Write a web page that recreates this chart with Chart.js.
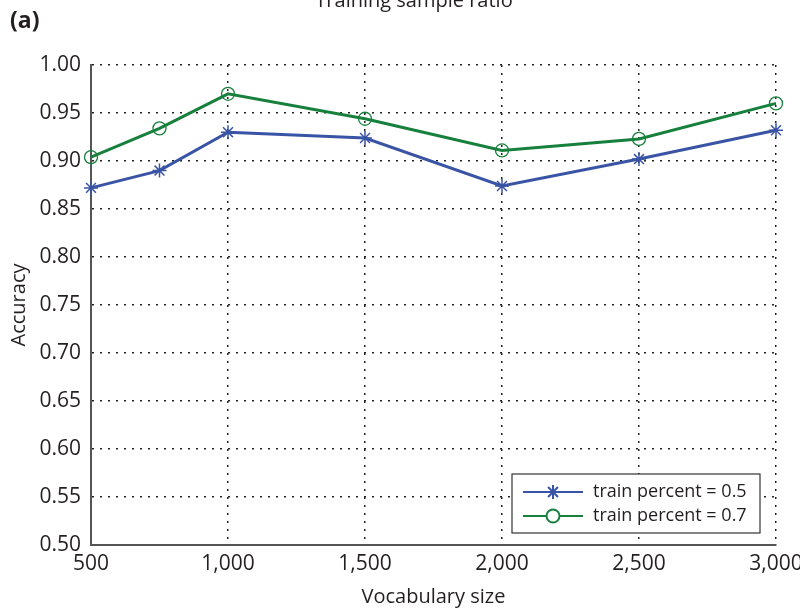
<!DOCTYPE html>
<html>
<head>
<meta charset="utf-8">
<script src="https://cdn.jsdelivr.net/npm/chart.js@4.4.1/dist/chart.umd.min.js"></script>
<style>
  body { margin: 0; background: #fff; }
  #wrap { width: 800px; height: 609px; position: relative; }
</style>
</head>
<body>
<div id="wrap"><canvas id="accChart"></canvas></div>
<script>
// Accuracy vs vocabulary size, two training ratios
const vocabSizes = [500, 750, 1000, 1500, 2000, 2500, 3000];
const acc05 = [0.872, 0.890, 0.930, 0.924, 0.874, 0.902, 0.932];
const acc07 = [0.904, 0.934, 0.970, 0.944, 0.911, 0.923, 0.960];
const seriesLabels = ['train percent = 0.5', 'train percent = 0.7'];

const FONT = "'Open Sans', 'Noto Sans', sans-serif";
const TEXT = '#231f20';
const BLUE = '#3a54a5';
const GREEN = '#17803d';

const toPoints = (xs, ys) => xs.map((x, i) => ({ x: x, y: ys[i] }));

// figure title (clipped at the top in the original) and panel tag
const headerPlugin = {
    id: 'header',
    afterDraw(chart) {
        const c = chart.ctx;
        c.save();
        c.fillStyle = TEXT;
        c.textBaseline = 'alphabetic';
        c.textAlign = 'center';
        c.font = '20px ' + FONT;
        c.fillText('Training sample ratio', 414, 7);
        c.textAlign = 'left';
        c.font = 'bold 23px ' + FONT;
        c.fillText('(a)', 10, 28);
        c.restore();
    }
};

// boxed legend in the lower right of the plot
const boxLegend = {
    id: 'boxLegend',
    afterDraw(chart) {
        const c = chart.ctx;
        const area = chart.chartArea;
        const w = 248, h = 59;
        const x0 = area.right - 16 - w;
        const y0 = area.bottom - 12 - h;
        c.save();
        c.fillStyle = '#fff';
        c.fillRect(x0, y0, w, h);
        c.strokeStyle = '#333';
        c.lineWidth = 1.2;
        c.strokeRect(x0, y0, w, h);
        chart.data.datasets.forEach((ds, i) => {
            const y = y0 + 18 + i * 24;
            c.strokeStyle = ds.borderColor;
            c.lineWidth = 2;
            c.beginPath();
            c.moveTo(x0 + 11, y);
            c.lineTo(x0 + 71, y);
            c.stroke();
            c.fillStyle = '#fff';
            Chart.helpers.drawPoint(c, {
                pointStyle: ds.pointStyle,
                radius: ds.pointRadius,
                borderWidth: 2,
                rotation: 0
            }, x0 + 41, y);
            c.fillStyle = TEXT;
            c.font = '18px ' + FONT;
            c.textAlign = 'left';
            c.textBaseline = 'middle';
            c.fillText(ds.label, x0 + 81, y);
        });
        c.restore();
    }
};

const ctx = document.getElementById('accChart').getContext('2d');
const chart = new Chart(ctx, {
    type: 'line',
    data: {
        datasets: [{
            label: seriesLabels[0],
            data: toPoints(vocabSizes, acc05),
            borderColor: BLUE,
            backgroundColor: BLUE,
            borderWidth: 3,
            pointStyle: 'star',
            pointRadius: 7,
            pointBorderWidth: 1.5,
            pointBorderColor: BLUE,
            pointBackgroundColor: 'rgba(0,0,0,0)',
            tension: 0,
            clip: false
        }, {
            label: seriesLabels[1],
            data: toPoints(vocabSizes, acc07),
            borderColor: GREEN,
            backgroundColor: GREEN,
            borderWidth: 3,
            pointStyle: 'circle',
            pointRadius: 6.5,
            pointBorderWidth: 1.3,
            pointBorderColor: GREEN,
            pointBackgroundColor: 'rgba(0,0,0,0)',
            tension: 0,
            clip: false
        }]
    },
    options: {
        responsive: true,
        maintainAspectRatio: false,
        animation: false,
        layout: { padding: { top: 65, right: 24, left: 0, bottom: 0 } },
        plugins: {
            legend: { display: false },
            tooltip: { enabled: false }
        },
        scales: {
            x: {
                type: 'linear',
                min: 500,
                max: 3000,
                ticks: {
                    stepSize: 500,
                    color: TEXT,
                    padding: 6,
                    maxRotation: 0,
                    font: { family: FONT, size: 21 },
                    callback: v => v.toLocaleString('en-US')
                },
                grid: { color: '#222', lineWidth: 1.5, drawTicks: false },
                border: { display: true, color: '#555', width: 2, dash: [2, 6] },
                title: {
                    display: true,
                    text: 'Vocabulary size',
                    color: TEXT,
                    font: { family: FONT, size: 20 },
                    padding: { top: 0, bottom: 0 }
                },
                afterFit: s => { s.height = 64; s.paddingLeft = 0; s.paddingRight = 0; }
            },
            y: {
                min: 0.5,
                max: 1.0,
                ticks: {
                    stepSize: 0.05,
                    color: TEXT,
                    padding: 10,
                    font: { family: FONT, size: 21 },
                    callback: v => v.toFixed(2)
                },
                grid: { color: '#222', lineWidth: 1.5, drawTicks: false },
                border: { display: true, color: '#555', width: 2, dash: [2, 6] },
                title: {
                    display: true,
                    text: 'Accuracy',
                    color: TEXT,
                    font: { family: FONT, size: 20 },
                    padding: { top: 7, bottom: 0 }
                },
                afterFit: s => { s.width = 91; }
            }
        }
    },
    plugins: [headerPlugin, boxLegend]
});
</script>
</body>
</html>
